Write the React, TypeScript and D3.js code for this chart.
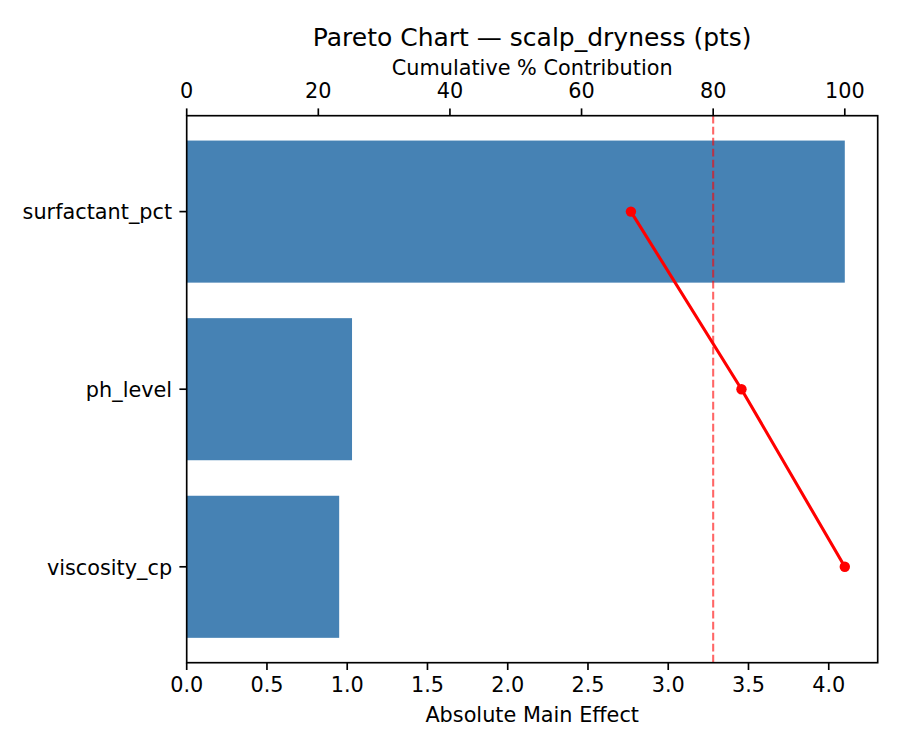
import { useMemo } from "react";
import * as d3 from "d3";

// Pareto chart: horizontal bars = absolute main effect (bottom axis),
// red line = cumulative % contribution (top axis).

const FACTORS = ["surfactant_pct", "ph_level", "viscosity_cp"];
const EFFECTS = [4.1, 1.03, 0.95];
const CUMULATIVE_PCT = [67.5, 84.3, 100];
const EFFECT_TICKS = [0, 0.5, 1.0, 1.5, 2.0, 2.5, 3.0, 3.5, 4.0];
const PCT_TICKS = [0, 20, 40, 60, 80, 100];
const THRESHOLD_PCT = 80;

const TITLE = "Pareto Chart — scalp_dryness (pts)";
const X_LABEL = "Absolute Main Effect";
const TOP_LABEL = "Cumulative % Contribution";

const W = 900;
const H = 750;
const M = { left: 186.7, right: 877.7, top: 115.7, bottom: 662.7 };
const FONT = "DejaVu Sans, Liberation Sans, sans-serif";
const TICK_FS = 20.8;
const TICK_LEN = 7.3;
const SPINE_W = 1.67;

export default function App() {
  const { xEff, xPct, y } = useMemo(() => {
    const xEff = d3
      .scaleLinear()
      .domain([0, (d3.max(EFFECTS) ?? 1) * 1.05])
      .range([M.left, M.right]);
    const xPct = d3.scaleLinear().domain([0, 105]).range([M.left, M.right]);
    // category index 0 on top; matplotlib-style margins around 0.8-high bars
    const y = d3
      .scaleLinear()
      .domain([-0.54, FACTORS.length - 1 + 0.54])
      .range([M.top, M.bottom]);
    return { xEff, xPct, y };
  }, []);

  const barH = y(0.8) - y(0);
  const fmt = d3.format(".1f");

  const line = d3
    .line<number>()
    .x((d) => xPct(d))
    .y((_, i) => y(i));

  return (
    <svg
      width={W}
      height={H}
      viewBox={`0 0 ${W} ${H}`}
      style={{ position: "absolute", left: 0, top: 0, display: "block", background: "#fff" }}
      fontFamily={FONT}
    >
      {/* bars */}
      {EFFECTS.map((v, i) => (
        <rect
          key={FACTORS[i]}
          x={xEff(0)}
          y={y(i) - barH / 2}
          width={xEff(v) - xEff(0)}
          height={barH}
          fill="#4682b4"
        />
      ))}

      {/* 80% threshold */}
      <line
        x1={xPct(THRESHOLD_PCT)}
        x2={xPct(THRESHOLD_PCT)}
        y1={M.top}
        y2={M.bottom}
        stroke="red"
        strokeOpacity={0.6}
        strokeWidth={2.08}
        strokeDasharray="7.7 3.3"
      />

      {/* cumulative line */}
      <path d={line(CUMULATIVE_PCT) ?? ""} fill="none" stroke="red" strokeWidth={3.1} />
      {CUMULATIVE_PCT.map((p, i) => (
        <circle key={i} cx={xPct(p)} cy={y(i)} r={5.2} fill="red" />
      ))}

      {/* frame */}
      <rect
        x={M.left}
        y={M.top}
        width={M.right - M.left}
        height={M.bottom - M.top}
        fill="none"
        stroke="#000"
        strokeWidth={SPINE_W}
      />

      {/* bottom axis */}
      {EFFECT_TICKS.map((t) => (
        <g key={`b${t}`} transform={`translate(${xEff(t)},${M.bottom})`}>
          <line y2={TICK_LEN} stroke="#000" strokeWidth={SPINE_W} />
          <text y={29.6} textAnchor="middle" fontSize={TICK_FS} fill="#000">
            {fmt(t)}
          </text>
        </g>
      ))}
      <text
        x={(M.left + M.right) / 2}
        y={722}
        textAnchor="middle"
        fontSize={TICK_FS}
        fill="#000"
      >
        {X_LABEL}
      </text>

      {/* top axis */}
      {PCT_TICKS.map((t) => (
        <g key={`t${t}`} transform={`translate(${xPct(t)},${M.top})`}>
          <line y2={-TICK_LEN} stroke="#000" strokeWidth={SPINE_W} />
          <text y={-17.7} textAnchor="middle" fontSize={TICK_FS} fill="#000">
            {t}
          </text>
        </g>
      ))}
      <text
        x={(M.left + M.right) / 2}
        y={74.5}
        textAnchor="middle"
        fontSize={TICK_FS}
        fill="#000"
      >
        {TOP_LABEL}
      </text>

      {/* y axis */}
      {FACTORS.map((f, i) => (
        <g key={f} transform={`translate(${M.left},${y(i)})`}>
          <line x2={-TICK_LEN} stroke="#000" strokeWidth={SPINE_W} />
          <text x={-14.6} dy={7.8} textAnchor="end" fontSize={TICK_FS} fill="#000">
            {f}
          </text>
        </g>
      ))}

      {/* title */}
      <text
        x={(M.left + M.right) / 2}
        y={46}
        textAnchor="middle"
        fontSize={25}
        fill="#000"
      >
        {TITLE}
      </text>
    </svg>
  );
}
